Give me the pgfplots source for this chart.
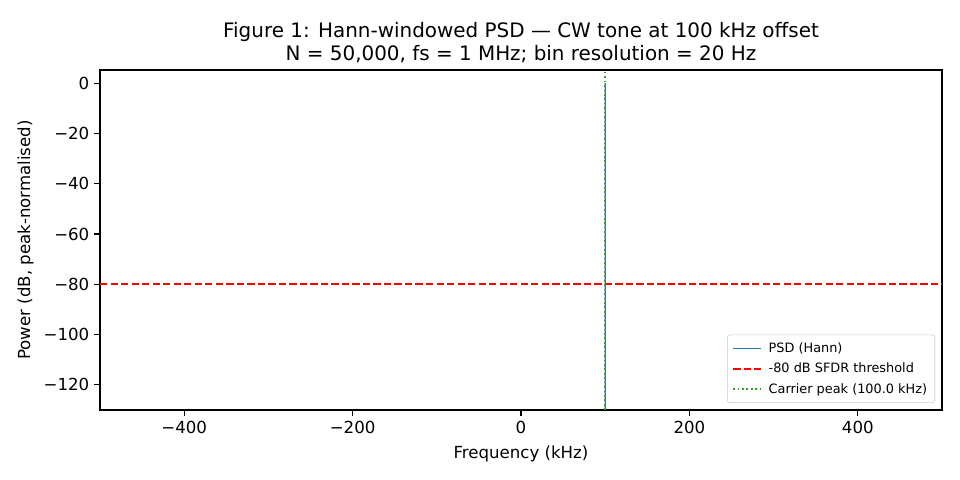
\documentclass[border=0pt]{standalone}
\usepackage{pgfplots}
\pgfplotsset{compat=1.18}
\usepackage{fontspec}
\setmainfont{DejaVu Sans}
\definecolor{c0}{HTML}{1F77B4}
\definecolor{cgreen}{HTML}{2CA02C}
\begin{document}
\begin{tikzpicture}
\begin{axis}[
  name=ax,
  scale only axis,
  width=8.42in, height=3.4in,
  xmin=-500, xmax=500, ymin=-130, ymax=5.2,
  xtick={-400,-200,0,200,400},
  xticklabels={−400,−200,0,200,400},
  ytick={-120,-100,-80,-60,-40,-20,0},
  yticklabels={−120,−100,−80,−60,−40,−20,0},
  tick align=outside,
  xtick pos=bottom, ytick pos=left,
  major tick length=4.2pt,
  tick style={black, line width=0.8pt},
  ticklabel style={font=\fontsize{12}{14}\selectfont},
  axis line style={line width=0.8pt},
  title={Figure 1: Hann-windowed PSD — CW tone at 100 kHz offset\\N = 50,000, fs = 1 MHz; bin resolution = 20 Hz},
  title style={align=center, font=\fontsize{14.4}{17}\selectfont, yshift=-4.5pt},
  xlabel={Frequency (kHz)},
  ylabel={Power (dB, peak-normalised)},
  label style={font=\fontsize{12}{14}\selectfont},
  xlabel style={yshift=-2pt},
  ylabel style={yshift=0.5pt},
  legend style={at={(0.9917,0.0206)}, anchor=south east, font=\fontsize{9.3}{11}\selectfont,
    draw=black!20, rounded corners=2pt, row sep=2.2pt, inner sep=3.5pt, column sep=3pt},
  legend cell align=left,
  legend image code/.code={\draw[#1] (0cm,0cm) -- (0.7cm,0cm);},
  clip=true,
]
\addplot[c0, line width=0.96pt] coordinates {(-500,-160) (99.98,-160) (100,0) (100.02,-160) (500,-160)};
\addlegendentry{PSD (Hann)}
\addplot[red, line width=1.44pt, dash pattern=on 5.3pt off 2.3pt] coordinates {(-500,-80) (500,-80)};
\addlegendentry{-80 dB SFDR threshold}
\addplot[cgreen, line width=1.2pt, dash pattern=on 1.2pt off 2pt] coordinates {(100,-130) (100,5.2)};
\addlegendentry{Carrier peak (100.0 kHz)}
\end{axis}
\pgfresetboundingbox
\path ([xshift=-1.0in,yshift=-0.7in]ax.south west) rectangle ([xshift=0.18in,yshift=0.7in]ax.north east);
\end{tikzpicture}
\end{document}
